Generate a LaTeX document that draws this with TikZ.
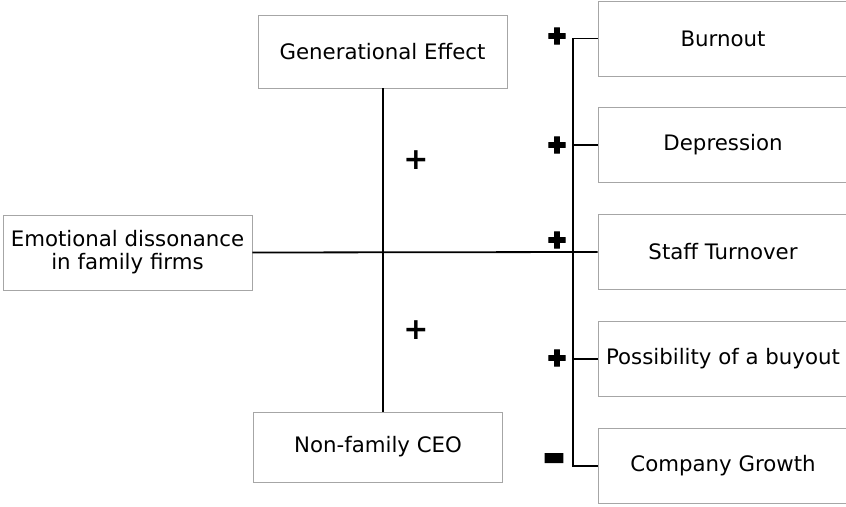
\documentclass[tikz,border=0pt]{standalone}
\usepackage{fontspec}
\setmainfont{DejaVu Sans}
\newfontfamily\heavysign[RawFeature={embolden=6}]{DejaVu Sans}
\usetikzlibrary{positioning}

\tikzset{
  factor/.style={draw=gray!70, line width=0.9pt, fill=white, align=center,
    inner sep=0pt, minimum width=249pt, minimum height=75pt,
    font=\fontsize{21.3}{23}\selectfont},
  link/.style={line width=1.8pt},
  sign/.style={inner sep=0pt, font=\heavysign\fontsize{22}{22}\selectfont},
  effect/.style={inner sep=0pt, font=\fontsize{30}{30}\selectfont\bfseries}
}

\begin{document}
\begin{tikzpicture}[x=1pt,y=-1pt]
    \useasboundingbox (0,0) rectangle (846,506);

    % moderators and cause
    \node[factor, minimum height=73pt] (gen) at (382.5,51.5) {Generational Effect};
    \node[factor, minimum height=70pt] (ceo) at (378,447) {Non-family CEO};
    \node[factor] (emo) at (127.5,252.5) {Emotional dissonance\\in family firms};

    % outcomes
    \node[factor, minimum width=250pt] (burn) at (723,38.5) {Burnout};
    \node[factor, minimum width=250pt] (dep) at (723,145) {Depression};
    \node[factor, minimum width=250pt] (turn) at (723,252) {Staff Turnover};
    \node[factor, minimum width=250pt] (buy) at (723,359) {Possibility of a buyout};
    \node[factor, minimum width=250pt] (grow) at (723,466) {Company Growth};

    % bracket column
    \coordinate (rail) at (573,252);

    \draw[link] (gen.south -| 383,0) -- (ceo.north -| 383,0);
    \draw[link] (emo.east) -- (turn.west);
    \draw[link] (burn.west) -- (burn.west -| rail) -- (grow.west -| rail) -- (grow.west);
    \draw[link] (dep.west) -- (dep.west -| rail);
    \draw[link] (buy.west) -- (buy.west -| rail);

    % signs
    \node[effect] (up) at (416,160) {+};
    \node[effect] (down) at (416,330) {+};
    \node[sign] (s1) at (557,36) {✚};
    \node[sign] (s2) at (557,145) {✚};
    \node[sign] (s3) at (557,240) {✚};
    \node[sign] (s4) at (557,358) {✚};
    \node[sign, font=\heavysign\fontsize{23}{23}\selectfont] (s5) at (554,459) {▬};
\end{tikzpicture}
\end{document}
